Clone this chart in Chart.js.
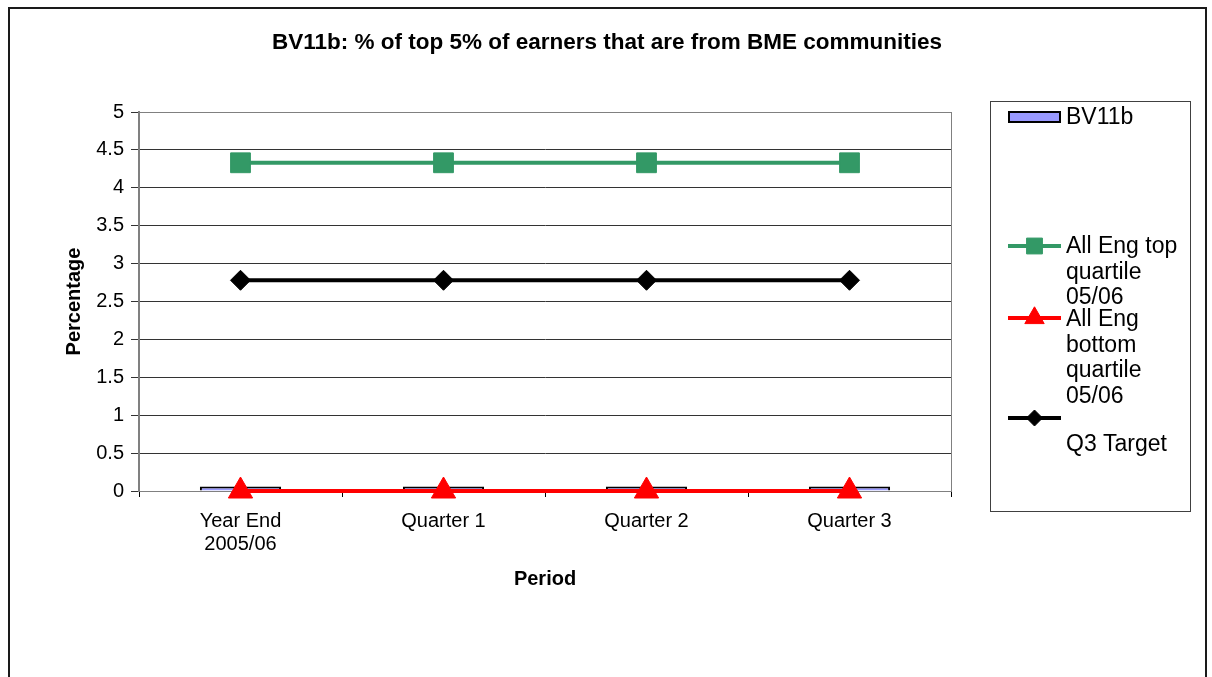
<!DOCTYPE html>
<html>
<head>
<meta charset="utf-8">
<script src="https://cdn.jsdelivr.net/npm/chart.js@4/dist/chart.umd.min.js"></script>
<style>
  html, body { margin: 0; padding: 0; background: #fff; }
  #wrap { width: 1212px; height: 677px; }
</style>
</head>
<body>
<div id="wrap"><canvas id="bvChart" width="1212" height="677"></canvas></div>
<script>
const periods = [['Year End', '2005/06'], 'Quarter 1', 'Quarter 2', 'Quarter 3']
const bv11b = [0.06, 0.06, 0.06, 0.06]
const topQuartile = [4.33, 4.33, 4.33, 4.33]
const bottomQuartile = [0, 0, 0, 0]
const q3Target = [2.78, 2.78, 2.78, 2.78]
const yMin = 0
const yMax = 5
const yStep = 0.5

const FONT = '"Liberation Sans", Arial, sans-serif'
const chartTitle = 'BV11b: % of top 5% of earners that are from BME communities'

// legend entries, wrapped the same way the old spreadsheet legend did it
const legendRows = [
  { ds: 3, lines: ['BV11b'], markerY: 117, textY: 118 },
  { ds: 0, lines: ['All Eng top', 'quartile', '05/06'], markerY: 246, textY: 247 },
  { ds: 1, lines: ['All Eng', 'bottom', 'quartile', '05/06'], markerY: 318, textY: 320 },
  { ds: 2, lines: ['Q3 Target'], markerY: 418, textY: 445 }
]

const framePlugin = {
  id: 'frame',
  beforeDraw(chart) {
    const { ctx } = chart
    ctx.save()
    ctx.fillStyle = '#fff'
    ctx.fillRect(0, 0, chart.width, chart.height)
    ctx.strokeStyle = '#1a1a1a'
    ctx.lineWidth = 2
    ctx.strokeRect(9, 8, 1197, 720)
    // chart heading
    ctx.fillStyle = '#000'
    ctx.font = 'bold 22.5px ' + FONT
    ctx.textAlign = 'center'
    ctx.textBaseline = 'middle'
    ctx.fillText(chartTitle, 607, 43)
    ctx.restore()
  },
  beforeDatasetsDraw(chart) {
    const { ctx, chartArea: a } = chart
    ctx.save()
    ctx.strokeStyle = '#808080'
    ctx.lineWidth = 1
    ctx.strokeRect(Math.round(a.left) + 0.5, Math.round(a.top) + 0.5, Math.round(a.right - a.left), Math.round(a.bottom - a.top))
    ctx.restore()
  },
  afterDraw(chart) {
    const { ctx } = chart
    ctx.save()
    // legend box
    ctx.strokeStyle = '#404040'
    ctx.lineWidth = 1
    ctx.strokeRect(990.5, 101.5, 200, 410)
    ctx.font = '23px ' + FONT
    ctx.textBaseline = 'middle'
    ctx.textAlign = 'left'
    legendRows.forEach(row => {
      const ds = chart.data.datasets[row.ds]
      const mx1 = 1008, mx2 = 1061, my = row.markerY
      if (ds.type === 'bar') {
        ctx.fillStyle = ds.backgroundColor
        ctx.fillRect(1009, my - 5, 51, 10)
        ctx.strokeStyle = '#000'
        ctx.lineWidth = 2
        ctx.strokeRect(1009, my - 5, 51, 10)
      } else {
        ctx.strokeStyle = ds.borderColor
        ctx.lineWidth = ds.borderWidth
        ctx.beginPath()
        ctx.moveTo(mx1, my)
        ctx.lineTo(mx2, my)
        ctx.stroke()
        ctx.fillStyle = ds.pointBackgroundColor
        ctx.lineWidth = 1
        Chart.helpers.drawPoint(ctx, {
          pointStyle: ds.pointStyle,
          radius: ds.pointRadius * 0.8,
          borderWidth: 1,
          rotation: 0
        }, (mx1 + mx2) / 2, my)
      }
      ctx.fillStyle = '#000'
      row.lines.forEach((t, i) => ctx.fillText(t, 1066, row.textY + i * 25.5))
    })
    ctx.restore()
  }
}

new Chart(document.getElementById('bvChart'), {
  type: 'bar',
  data: {
    labels: periods,
    datasets: [
      {
        type: 'line',
        label: 'All Eng top quartile 05/06',
        data: topQuartile,
        borderColor: '#339966',
        backgroundColor: '#339966',
        borderWidth: 4,
        pointStyle: 'rect',
        pointRadius: 14,
        pointBackgroundColor: '#339966',
        pointBorderColor: '#339966',
        pointBorderWidth: 1,
        tension: 0,
        clip: false,
        order: 0
      },
      {
        type: 'line',
        label: 'All Eng bottom quartile 05/06',
        data: bottomQuartile,
        borderColor: '#ff0000',
        backgroundColor: '#ff0000',
        borderWidth: 4,
        pointStyle: 'triangle',
        pointRadius: 14,
        pointBackgroundColor: '#ff0000',
        pointBorderColor: '#ff0000',
        pointBorderWidth: 1,
        tension: 0,
        clip: false,
        order: 0
      },
      {
        type: 'line',
        label: 'Q3 Target',
        data: q3Target,
        borderColor: '#000',
        backgroundColor: '#000',
        borderWidth: 4,
        pointStyle: 'rectRot',
        pointRadius: 10,
        pointBackgroundColor: '#000',
        pointBorderColor: '#000',
        pointBorderWidth: 1,
        tension: 0,
        clip: false,
        order: 0
      },
      {
        type: 'bar',
        label: 'BV11b',
        data: bv11b,
        backgroundColor: '#9999ff',
        borderColor: '#000',
        borderWidth: 2,
        barPercentage: 0.4,
        categoryPercentage: 1,
        order: 1
      }
    ]
  },
  options: {
    responsive: false,
    animation: false,
    devicePixelRatio: 1,
    layout: { padding: { top: 112, left: 62, right: 261, bottom: 86 } },
    plugins: {
      legend: { display: false },
      tooltip: { enabled: false },
      title: { display: false }
    },
    scales: {
      x: {
        grid: { drawOnChartArea: false, drawTicks: true, tickLength: 6, color: '#000', offset: true },
        border: { color: '#000', width: 1 },
        ticks: { color: '#000', font: { family: FONT, size: 20, lineHeight: 1.15 }, padding: 13, maxRotation: 0 },
        title: { display: true, text: 'Period', color: '#000', font: { family: FONT, size: 20, weight: 'bold' }, padding: 0 },
        afterFit(scale) { scale.height = 100 }
      },
      y: {
        min: yMin,
        max: yMax,
        grid: { color: '#333', tickLength: 8, drawTicks: true },
        border: { color: '#808080', width: 2 },
        ticks: { stepSize: yStep, color: '#000', font: { family: FONT, size: 20 }, padding: 7, callback: v => String(v) },
        title: { display: true, text: 'Percentage', color: '#000', font: { family: FONT, size: 20, weight: 'bold' }, padding: 0 },
        afterFit(scale) { scale.width = 77 }
      }
    }
  },
  plugins: [framePlugin]
})
</script>
</body>
</html>
